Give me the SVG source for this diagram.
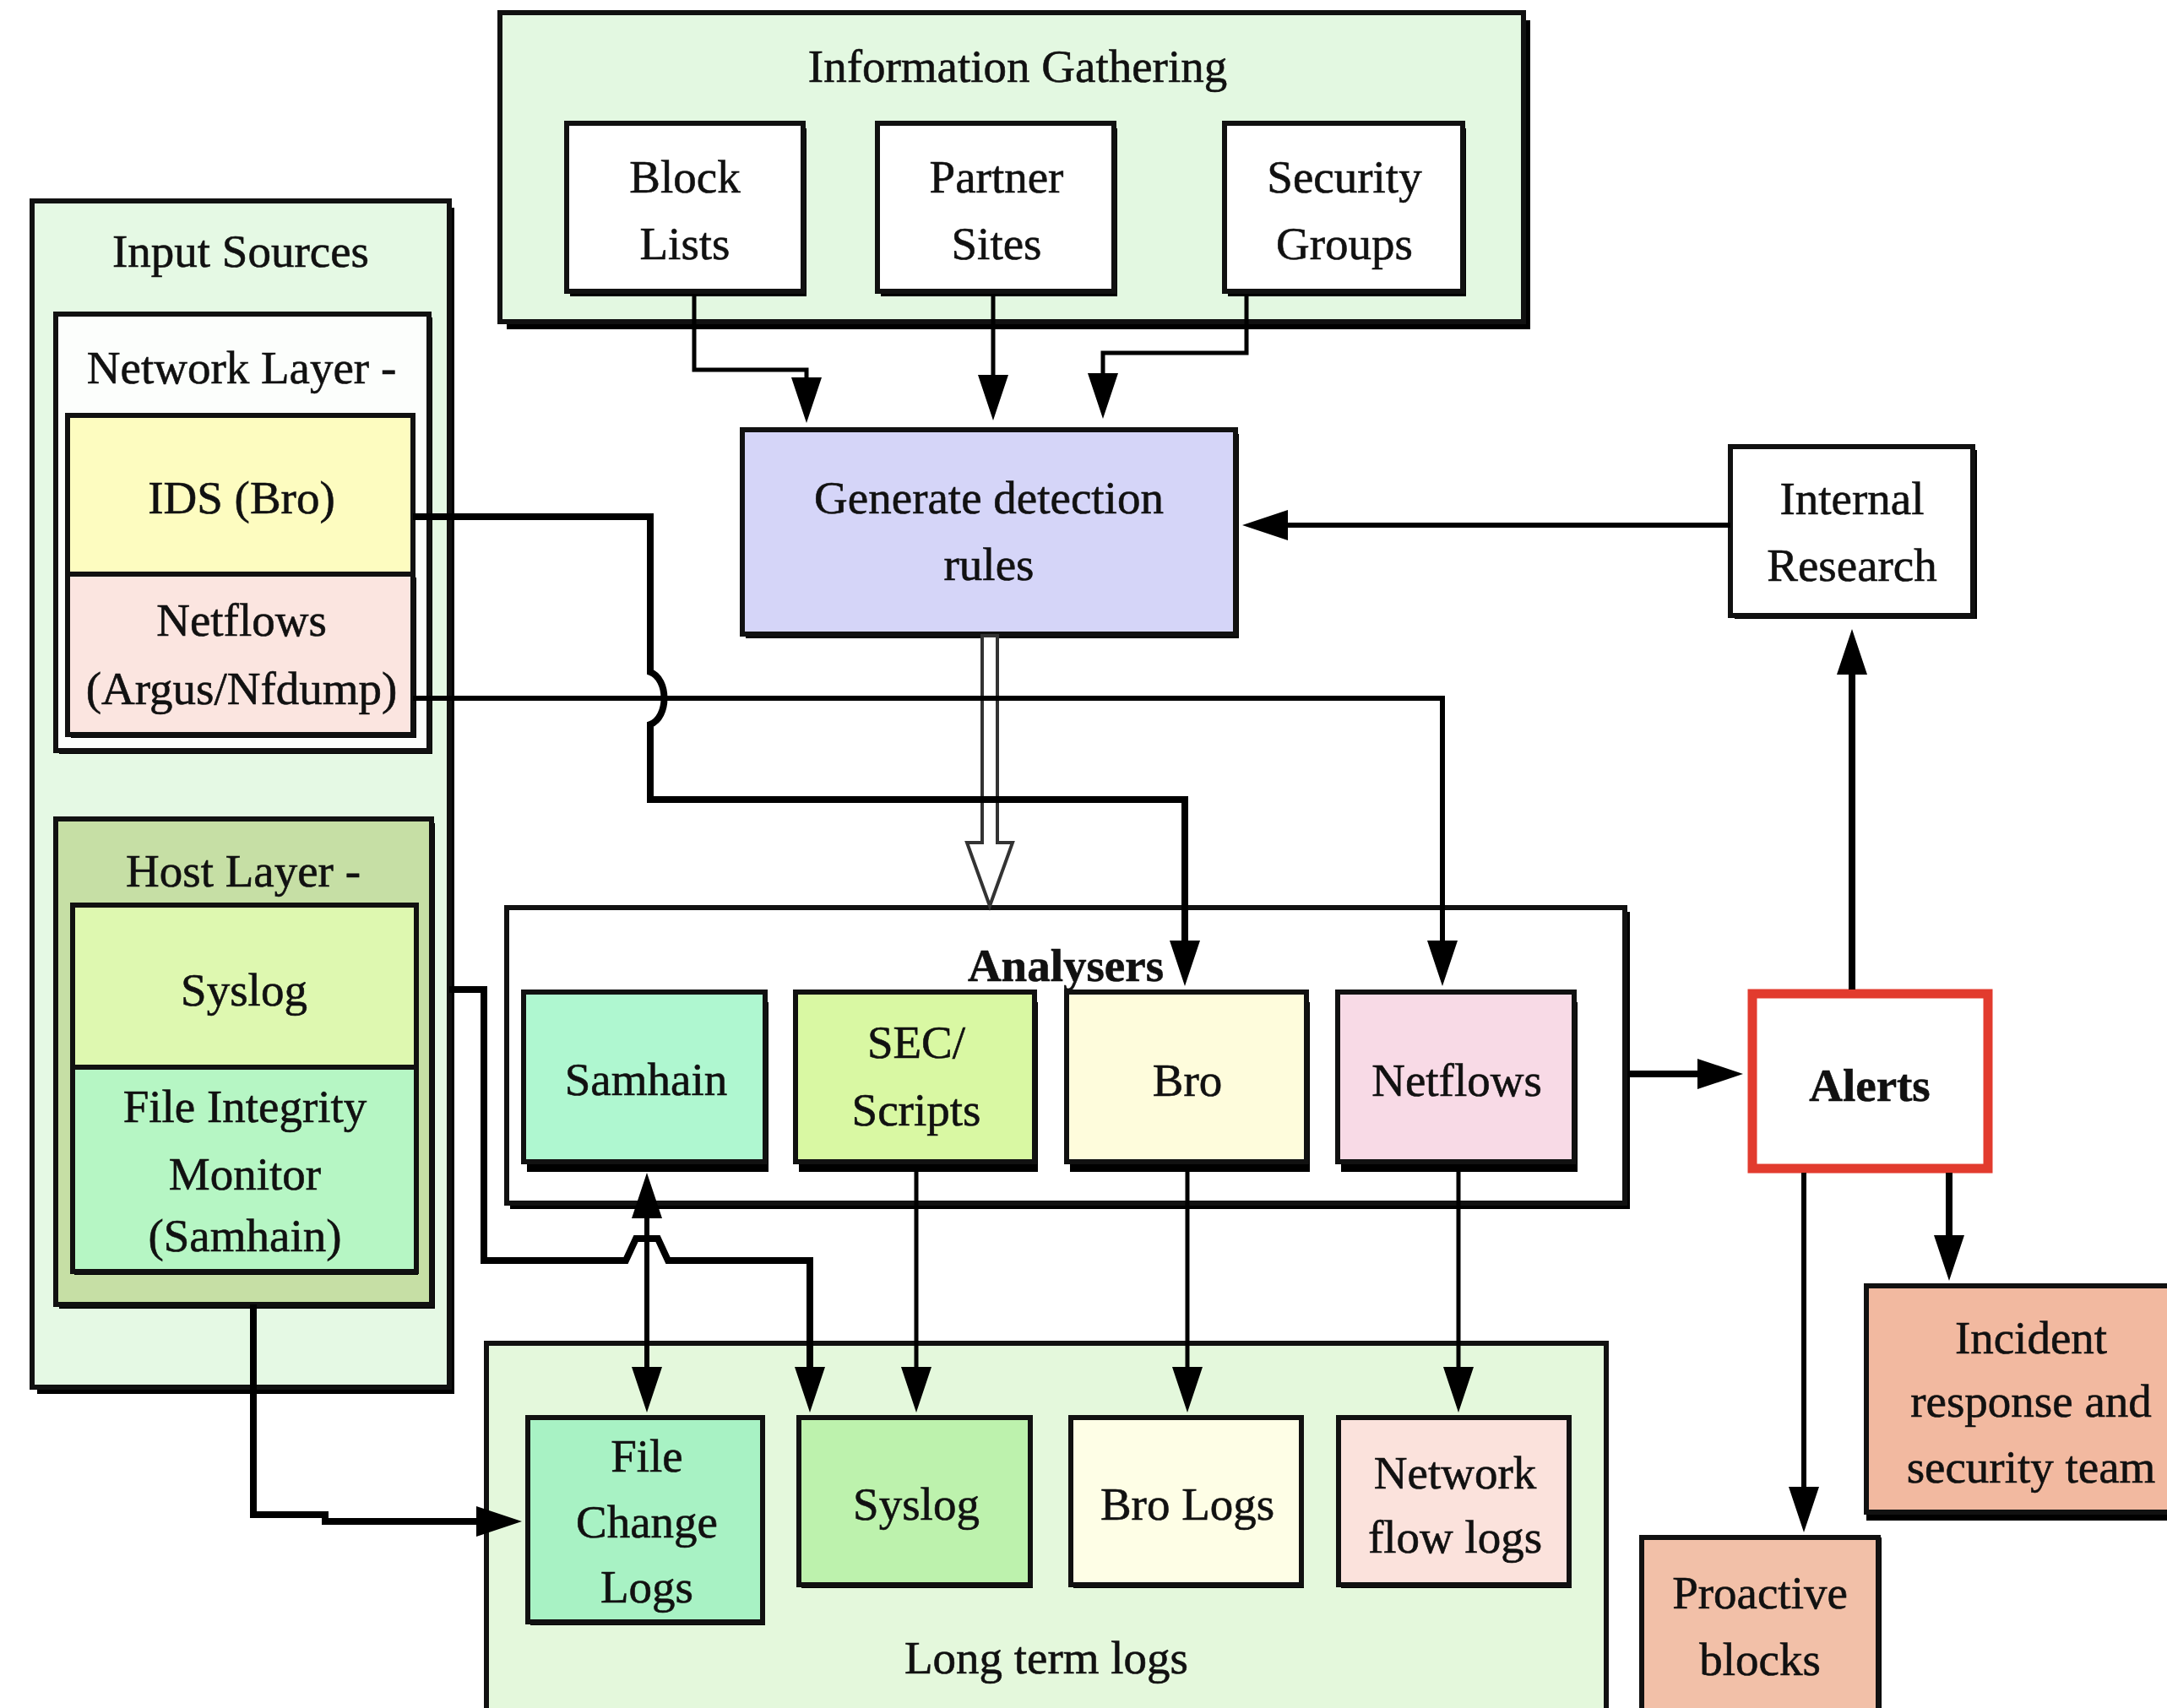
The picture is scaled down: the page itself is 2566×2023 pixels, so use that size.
<svg xmlns="http://www.w3.org/2000/svg" width="2566" height="2023" viewBox="0 0 2566 2023">
  <style>
    .t { font-family: "Liberation Serif", "Times New Roman", serif; font-size: 55px; text-anchor: middle; fill: #111; stroke: #111; stroke-width: 0.6px; }
    .b { font-weight: bold; }
    .box { stroke: #111; stroke-width: 6; }
    .sh { fill: #000; }
    .ln { fill: none; stroke: #000; stroke-width: 8; }
    .thin { stroke-width: 5; }
    .mid { stroke-width: 6; }
  </style>
  <defs>
    <marker id="ah" viewBox="0 0 54 36" refX="2" refY="18" markerWidth="54" markerHeight="36" markerUnits="userSpaceOnUse" orient="auto-start-reverse">
      <path d="M0,0 L54,18 L0,36 z" fill="#000"/>
    </marker>
  </defs>
  <rect width="2566" height="2023" fill="#fff"/>

  <!-- Information gathering group -->
  <g id="info-gathering">
    <rect class="sh" x="600" y="24" width="1212" height="366"/>
    <rect class="box" x="592" y="15" width="1212" height="366" fill="#e3f8e1" stroke-width="7"/>
    <text class="t" x="1205" y="97" font-size="57">Information Gathering</text>
  </g>
  <g id="block-lists">
    <rect class="sh" x="675" y="152" width="280" height="199"/>
    <rect class="box" x="671" y="146" width="280" height="199" fill="#fff"/>
    <text class="t" x="811" y="228">Block</text>
    <text class="t" x="811" y="307">Lists</text>
  </g>
  <g id="partner-sites">
    <rect class="sh" x="1043" y="152" width="280" height="199"/>
    <rect class="box" x="1039" y="146" width="280" height="199" fill="#fff"/>
    <text class="t" x="1180" y="228">Partner</text>
    <text class="t" x="1180" y="307">Sites</text>
  </g>
  <g id="security-groups">
    <rect class="sh" x="1454" y="152" width="282" height="199"/>
    <rect class="box" x="1450" y="146" width="282" height="199" fill="#fff"/>
    <text class="t" x="1592" y="228">Security</text>
    <text class="t" x="1592" y="307">Groups</text>
  </g>

  <!-- Input sources group -->
  <g id="input-sources">
    <rect class="sh" x="44" y="246" width="494" height="1405"/>
    <rect class="box" x="38" y="238" width="494" height="1405" fill="#e5f9e4"/>
    <text class="t" x="285" y="316">Input Sources</text>
  </g>
  <g id="network-layer">
    <rect class="sh" x="70" y="376" width="442" height="517"/>
    <rect class="box" x="66" y="372" width="442" height="517" fill="#fcfefc"/>
    <text class="t" x="286" y="454">Network Layer -</text>
  </g>
  <g id="ids-bro">
    <rect class="box" x="80" y="492" width="409" height="188" fill="#fdfcc0"/>
    <text class="t" x="286" y="608">IDS (Bro)</text>
  </g>
  <g id="netflows-input">
    <rect class="sh" x="84" y="684" width="409" height="190"/>
    <rect class="box" x="80" y="680" width="409" height="190" fill="#fbe5e0"/>
    <text class="t" x="286" y="753">Netflows</text>
    <text class="t" x="286" y="834">(Argus/Nfdump)</text>
  </g>
  <g id="host-layer">
    <rect class="sh" x="70" y="975" width="445" height="575"/>
    <rect class="box" x="66" y="970" width="445" height="575" fill="#c6dfa5"/>
    <text class="t" x="288" y="1050">Host Layer -</text>
  </g>
  <g id="syslog-input">
    <rect class="box" x="86" y="1072" width="407" height="192" fill="#def8b0"/>
    <text class="t" x="289" y="1191">Syslog</text>
  </g>
  <g id="file-integrity-monitor">
    <rect class="sh" x="88" y="1268" width="407" height="242"/>
    <rect class="box" x="86" y="1264" width="407" height="242" fill="#b6f6c4"/>
    <text class="t" x="290" y="1329">File Integrity</text>
    <text class="t" x="290" y="1409">Monitor</text>
    <text class="t" x="290" y="1482">(Samhain)</text>
  </g>

  <!-- Rule generation and research -->
  <g id="generate-rules">
    <rect class="sh" x="883" y="514" width="584" height="242"/>
    <rect class="box" x="879" y="509" width="584" height="242" fill="#d5d5f8"/>
    <text class="t" x="1171" y="608" font-size="57" fill="#1a1a40" stroke="#1a1a40">Generate detection</text>
    <text class="t" x="1171" y="687" font-size="57" fill="#1a1a40" stroke="#1a1a40">rules</text>
  </g>
  <g id="internal-research">
    <rect class="sh" x="2054" y="533" width="287" height="200"/>
    <rect class="box" x="2049" y="529" width="287" height="200" fill="#fff"/>
    <text class="t" x="2193" y="609">Internal</text>
    <text class="t" x="2193" y="688">Research</text>
  </g>

  <!-- Analysers group -->
  <g id="analysers">
    <rect class="sh" x="604" y="1080" width="1326" height="352"/>
    <rect class="box" x="600" y="1075" width="1324" height="350" fill="#fff" stroke-width="10"/>
    <text class="t b" x="1262" y="1162" font-size="51">Analysers</text>
  </g>
  <g id="samhain">
    <rect class="sh" x="624" y="1187" width="286" height="201"/>
    <rect class="box" x="620" y="1175" width="286" height="201" fill="#aff7d0"/>
    <text class="t" x="765" y="1297">Samhain</text>
  </g>
  <g id="sec-scripts">
    <rect class="sh" x="946" y="1187" width="283" height="201"/>
    <rect class="box" x="942" y="1175" width="283" height="201" fill="#d9f8a3"/>
    <text class="t" x="1085" y="1253">SEC/</text>
    <text class="t" x="1085" y="1333">Scripts</text>
  </g>
  <g id="bro">
    <rect class="sh" x="1267" y="1187" width="284" height="201"/>
    <rect class="box" x="1263" y="1175" width="284" height="201" fill="#fefcdc"/>
    <text class="t" x="1406" y="1298">Bro</text>
  </g>
  <g id="netflows-analyser">
    <rect class="sh" x="1588" y="1187" width="280" height="201"/>
    <rect class="box" x="1584" y="1175" width="280" height="201" fill="#f8dae6"/>
    <text class="t" x="1725" y="1298">Netflows</text>
  </g>

  <!-- Alerts and responses -->
  <g id="alerts">
    <rect x="2075" y="1177" width="279" height="207" fill="#fff" stroke="#e23b2e" stroke-width="11"/>
    <text class="t b" x="2214" y="1304" font-size="54">Alerts</text>
  </g>
  <g id="incident-response">
    <rect class="sh" x="2210" y="1533" width="370" height="268"/>
    <rect class="box" x="2210" y="1523" width="370" height="268" fill="#f2b9a0" stroke-width="7"/>
    <text class="t" x="2405" y="1603">Incident</text>
    <text class="t" x="2405" y="1678">response and</text>
    <text class="t" x="2405" y="1756">security team</text>
  </g>
  <g id="proactive-blocks">
    <rect class="sh" x="1948" y="1821" width="280" height="220"/>
    <rect class="box" x="1944" y="1821" width="280" height="220" fill="#f2c0a8" stroke-width="7"/>
    <text class="t" x="2084" y="1905">Proactive</text>
    <text class="t" x="2084" y="1984">blocks</text>
  </g>

  <!-- Long term logs group -->
  <g id="long-term-logs">
    <rect class="box" x="576" y="1591" width="1326" height="450" fill="#e4f8dc" stroke-width="5"/>
    <text class="t" x="1239" y="1982">Long term logs</text>
  </g>
  <g id="file-change-logs">
    <rect class="sh" x="628" y="1683" width="278" height="242"/>
    <rect class="box" x="625" y="1679" width="278" height="242" fill="#a8f2c4"/>
    <text class="t" x="766" y="1743">File</text>
    <text class="t" x="766" y="1821">Change</text>
    <text class="t" x="766" y="1898">Logs</text>
  </g>
  <g id="syslog-logs">
    <rect class="sh" x="949" y="1683" width="274" height="198"/>
    <rect class="box" x="946" y="1679" width="274" height="198" fill="#bdf2ad"/>
    <text class="t" x="1085" y="1800">Syslog</text>
  </g>
  <g id="bro-logs">
    <rect class="sh" x="1271" y="1683" width="273" height="198"/>
    <rect class="box" x="1268" y="1679" width="273" height="198" fill="#fefee6"/>
    <text class="t" x="1406" y="1800">Bro Logs</text>
  </g>
  <g id="network-flow-logs">
    <rect class="sh" x="1588" y="1683" width="273" height="198"/>
    <rect class="box" x="1585" y="1679" width="273" height="198" fill="#fbe2dc"/>
    <text class="t" x="1723" y="1763">Network</text>
    <text class="t" x="1723" y="1839">flow logs</text>
  </g>

  <!-- Connectors -->
  <g id="connectors">
    <!-- hollow arrow: rules feed the analysers -->
    <path d="M1163,753 H1181 V998 H1199 L1172,1073 L1145,998 H1163 Z" fill="#fff" stroke="#333" stroke-width="4"/>

    <path class="ln thin" d="M822,348 V438 H955 V449" marker-end="url(#ah)"/>
    <path class="ln thin" d="M1176,348 V446" marker-end="url(#ah)"/>
    <path class="ln thin" d="M1476,348 V418 H1306 V444" marker-end="url(#ah)"/>
    <path class="ln mid" d="M2049,622 H1523" marker-end="url(#ah)"/>

    <path class="ln" d="M489,612 H770 V796 C792,804 792,850 770,858 V947 H1403 V1116" marker-end="url(#ah)"/>
    <path class="ln mid" d="M489,827 H1708 V1116" marker-end="url(#ah)"/>

    <path class="ln" d="M1928,1272 H2012" marker-end="url(#ah)"/>
    <path class="ln" d="M2193,1172 V797" marker-end="url(#ah)"/>
    <path class="ln mid" d="M2136,1389 V1763" marker-end="url(#ah)"/>
    <path class="ln" d="M2308,1389 V1465" marker-end="url(#ah)"/>

    <path class="ln thin" d="M1085,1388 V1621" marker-end="url(#ah)"/>
    <path class="ln thin" d="M1406,1388 V1621" marker-end="url(#ah)"/>
    <path class="ln thin" d="M1727,1388 V1621" marker-end="url(#ah)"/>
    <path class="ln mid" d="M766,1441 V1621" marker-start="url(#ah)" marker-end="url(#ah)"/>

    <path class="ln" d="M532,1172 H573 V1493 H741 L753,1467 H779 L791,1493 H959 V1621" marker-end="url(#ah)"/>
    <path class="ln" d="M300,1545 V1794 H385 V1802 H566" marker-end="url(#ah)"/>
  </g>
</svg>
